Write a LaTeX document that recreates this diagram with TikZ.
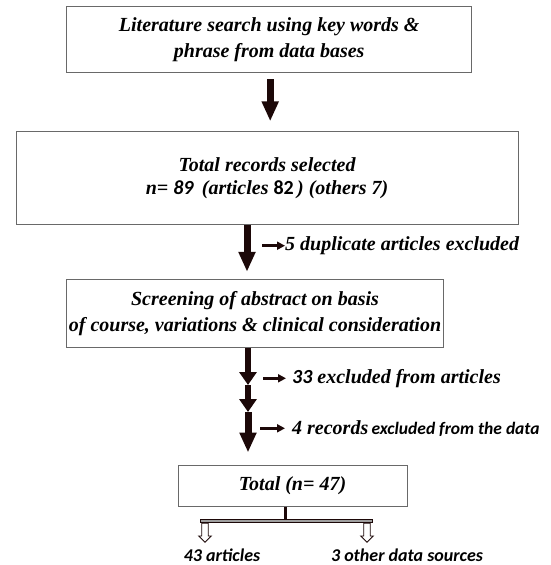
\documentclass[tikz,border=0pt]{standalone}
\usepackage{fontspec}
\setmainfont{Liberation Serif}
\newfontfamily\numfont{Carlito}
\usetikzlibrary{arrows.meta, positioning, shapes.arrows}
\definecolor{arrowdark}{RGB}{28,8,8}
\definecolor{boxgray}{RGB}{105,105,105}
\newcommand{\nmit}[1]{{\numfont\bfseries\itshape #1}}
\newcommand{\nmup}[1]{{\numfont\bfseries\upshape #1}}

\begin{document}
\begin{tikzpicture}[x=1pt, y=-1pt]
	\tikzset{box/.style={draw=boxgray, line width=1pt, align=center, inner sep=0pt, font=\fontsize{20}{26}\selectfont\bfseries\itshape},
		bigarrow/.style={arrowdark, line width=7pt, -{Triangle[width=16pt,length=20pt]}},
		midarrow/.style={arrowdark, line width=6pt, -{Triangle[width=17pt,length=13pt]}},
		sidearrow/.style={arrowdark, line width=3.5pt, -{Triangle[width=8pt,length=8pt]}},
		sidelbl/.style={anchor=west, inner sep=0pt, font=\fontsize{20}{22}\selectfont\bfseries\itshape},
		outlbl/.style={inner sep=0pt, font=\fontsize{18}{20}\selectfont\numfont\bfseries\itshape},
		hollow/.style={single arrow, draw=arrowdark, fill=white, line width=0.9pt, shape border rotate=270, minimum height=19pt, inner sep=2.8pt, single arrow head extend=3pt}}
	\useasboundingbox (0,0) rectangle (550,565);

	\node[box, minimum width=405pt, minimum height=66pt] (search) at (269.2,39.7) {Literature search using key words \&\\ phrase from data bases};
	\node[box, minimum width=502pt, minimum height=93pt] (records) at (267,178.3) {Total records selected\\[-3pt] n= \nmit{89}\, (articles \nmup{82}\,) (others 7)};
	\node[box, minimum width=376.6pt, minimum height=68pt] (screen) at (255,313.3) {Screening of abstract on basis\\ of course, variations \& clinical consideration};
	\node[box, minimum width=229pt, minimum height=41pt] (total) at (292.5,485.5) {Total (n= 47)};

	% main flow
	\draw[bigarrow, shorten <=6pt, shorten >=10pt] ([xshift=1pt]search.south) -- ([xshift=1pt]search.south |- records.north);
	\draw[bigarrow, shorten >=7pt] ([xshift=-20pt]records.south) -- ([xshift=-20pt]records.south |- screen.north);
	\coordinate (m1) at (248,385);
	\coordinate (m2) at (248,412);
	\draw[midarrow] ([xshift=-7pt]screen.south) -- (m1);
	\draw[midarrow] (m1) -- (m2);
	\draw[bigarrow, shorten >=12pt] (m2) -- (m2 |- total.north);

	% exclusions
	\node[sidelbl] (dup) at (285,245.7) {5 duplicate articles excluded};
	\node[sidelbl] (art) at (292,378.3) {\nmit{33} excluded from articles};
	\node[sidelbl] (rec) at (292,428.3) {4 records\,{\fontsize{17.5}{22}\selectfont\nmit{excluded from the data}}};
	\coordinate[left=23pt of dup.west] (dup0);
	\coordinate[left=29pt of art.west] (art0);
	\coordinate[left=32pt of rec.west] (rec0);
	\draw[sidearrow] (dup0) -- (dup.west);
	\draw[sidearrow, shorten >=6pt] (art0) -- (art.west);
	\draw[sidearrow, shorten >=7pt] (rec0) -- (rec.west);

	% split
	\coordinate (barL) at (200,521);
	\coordinate (barR) at (372,521);
	\draw[arrowdark, line width=3pt] ([xshift=-7.5pt]total.south) -- ([xshift=-7.5pt]total.south |- barL);
	\draw[draw=arrowdark, fill=gray!75, line width=0.8pt] ([yshift=-1.8pt]barL) rectangle ([yshift=1.8pt]barR);
	\node[hollow, anchor=tail] (arrA) at (205,522.8) {};
	\node[hollow, anchor=tail] (arrB) at (367,522.8) {};
	\node[outlbl] (artA) at (222,555) {43 articles};
	\node[outlbl] (othB) at (407,555) {3 other data sources};
\end{tikzpicture}
\end{document}
